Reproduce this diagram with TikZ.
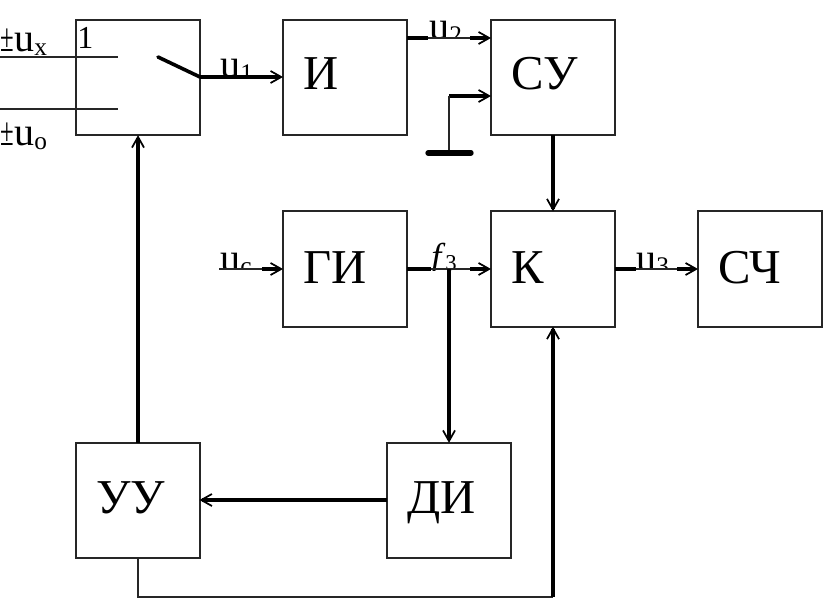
\documentclass[tikz,border=0pt]{standalone}
\usepackage{fontspec}
\usepackage{graphicx}
\setmainfont{Liberation Serif}
\usetikzlibrary{arrows.meta}
\tikzset{
  x=0.75pt,y=-0.75pt,
  blk/.style={draw=black!85,line width=1.5pt,fill=white,minimum width=93pt,minimum height=86.5pt,inner sep=0pt,outer sep=0pt},
  blktxt/.style={anchor=base west,inner sep=0pt,font=\fontsize{36.5}{36.5}\selectfont},
  sig/.style={anchor=base west,inner sep=0pt,font=\fontsize{30}{30}\selectfont},
  wire/.style={line width=1.5pt,black!85},
  heavy/.style={line width=2.7pt,black,line cap=butt},
  tip/.style={-{Straight Barb[length=8pt,width=9pt,line width=1.3pt]}}
}
\newcommand{\sbs}[1]{\raisebox{-0.08em}{\fontsize{19}{19}\selectfont #1}}
\newcommand{\pmnarrow}{\scalebox{0.62}[1]{±}}
\begin{document}
\begin{tikzpicture}
\useasboundingbox (0,0) rectangle (834,599);
\fill[white] (0,0) rectangle (834,599);

% signal labels, cut off at the line that runs under them
\begin{scope}\clip (0,10) rectangle (60,56);
\node[sig] (lux) at (0.5,52) {\pmnarrow u\sbs{x}};\end{scope}
\begin{scope}\clip (0,110) rectangle (60,160);
\node[sig] (luo) at (0.5,146) {\pmnarrow u\sbs{o}};\end{scope}
\begin{scope}\clip (210,40) rectangle (270,77);
\node[sig] (luone) at (220,78) {u\sbs{1}};\end{scope}
\begin{scope}\clip (420,0) rectangle (480,38);
\node[sig] (lutwo) at (429,40) {u\sbs{2}};\end{scope}
\begin{scope}\clip (210,230) rectangle (270,269);
\node[sig] (luc) at (220,271) {u\sbs{c}};\end{scope}
\begin{scope}\clip (420,230) rectangle (470,270);
\node[sig,font=\fontsize{27}{27}\selectfont] (lfz) at (431,268) {\textit{f}\raisebox{-0.08em}{\fontsize{17}{17}\selectfont 3}};\end{scope}
\begin{scope}\clip (630,230) rectangle (690,269);
\node[sig] (luz) at (636,271) {u\sbs{3}};\end{scope}

% blocks
\node[blk] (sw) at (137.5,77.5) {};
\node[blk] (i)  at (345,77.5) {};
\node[blk] (su) at (553,77.5) {};
\node[blk] (gi) at (345,269) {};
\node[blk] (k)  at (553,269) {};
\node[blk] (sc) at (760,269) {};
\node[blk] (uu) at (137.5,500.5) {};
\node[blk] (di) at (449,500.5) {};

\node[blktxt] (ti) at (303,90) {И};
\node[blktxt] (tsu) at (511,90) {СУ};
\node[blktxt] (tgi) at (303,283) {ГИ};
\node[blktxt] (tk) at (511,283) {К};
\node[blktxt] (tsc) at (718,283) {СЧ};
\node[blktxt] (tuu) at (96,513) {УУ};
\node[blktxt] (tdi) at (407,513) {ДИ};
\node[sig,font=\fontsize{24}{24}\selectfont] (lone) at (77,49) {1};

% free ends and routing levels
\coordinate (inx) at (0,57);
\coordinate (ino) at (0,109);
\coordinate (cx) at (118,57);
\coordinate (co) at (118,109);
\coordinate (blade) at (158,57);
\coordinate (swout) at (200,77);
\coordinate (rowuu) at (0,500);
\coordinate (coluu) at (138,0);
\coordinate (uc0) at (219,269);
\coordinate (uc1) at (262,269);
\coordinate (utwoA) at (428,38);
\coordinate (utwoB) at (470,38);
\coordinate (fzA) at (431,269);
\coordinate (fzB) at (470,269);
\coordinate (uzA) at (636,269);
\coordinate (uzB) at (677,269);
\coordinate (gndT) at (449,96);
\coordinate (gndB) at (449,153);
\coordinate (gndL) at (428,153);
\coordinate (gndR) at (471,153);
\coordinate (fj) at (449,269);
\coordinate (lowL) at (137.5,597);
\coordinate (lowR) at (553,597);

% switch
\draw[wire] (inx) -- (cx);
\draw[wire] (ino) -- (co);
\draw[line width=2.7pt,line cap=round] (blade) -- (swout);

% connectors
\draw[heavy,tip] (swout) -- (i.west |- swout);
\draw[heavy] (i.east |- utwoA) -- (utwoA);
\draw[wire] (utwoA) -- (utwoB);
\draw[heavy,tip] (utwoB) -- (su.west |- utwoB);
\draw[heavy,tip] (gndT) -- (su.west |- gndT);
\draw[wire] (gndT) -- (gndB);
\draw[line width=4pt,line cap=round] (gndL) -- (gndR);
\draw[heavy,tip] (su.south) -- (k.north);
\draw[wire] (uc0) -- (uc1);
\draw[heavy,tip] (uc1) -- (gi.west);
\draw[heavy] (gi.east) -- (fzA);
\draw[wire] (fzA) -- (fzB);
\draw[heavy,tip] (fzB) -- (k.west);
\draw[heavy,tip] (fj) -- (di.north);
\draw[heavy] (k.east) -- (uzA);
\draw[wire] (uzA) -- (uzB);
\draw[heavy,tip] (uzB) -- (sc.west);
\draw[heavy,tip] (coluu |- uu.north) -- (coluu |- sw.south);
\draw[heavy,tip] (di.west |- rowuu) -- (uu.east |- rowuu);
\draw[wire] (uu.south) -- (lowL) -- (lowR);
\draw[heavy,tip] (lowR) -- (k.south);
\end{tikzpicture}
\end{document}
